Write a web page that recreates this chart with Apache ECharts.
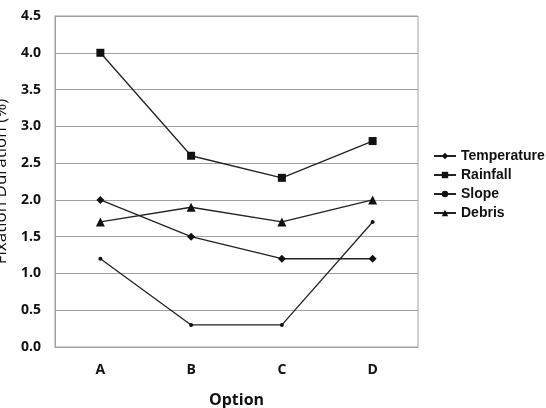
<!DOCTYPE html>
<html>
<head>
<meta charset="utf-8">
<script src="https://cdn.jsdelivr.net/npm/echarts@6/dist/echarts.min.js"></script>
<style>
  html, body { margin: 0; padding: 0; background: #fff; }
  #chart { width: 546px; height: 408px; }
</style>
</head>
<body>
<div id="chart"></div>
<script>
var categories = ['A', 'B', 'C', 'D']
var temperature = [2.0, 1.5, 1.2, 1.2]
var rainfall = [4.0, 2.6, 2.3, 2.8]
var slope = [1.2, 0.3, 0.3, 1.7]
var debris = [1.7, 1.9, 1.7, 2.0]

var font = '"Open Sans", "DejaVu Sans", sans-serif'

function line (name, data, symbol, size) {
  return {
    name: name,
    type: 'line',
    data: data,
    symbol: symbol,
    symbolSize: size,
    itemStyle: { color: '#111' },
    lineStyle: { color: '#222', width: 1.3 }
  }
}

var chart = echarts.init(document.getElementById('chart'))
chart.setOption({
  animation: false,
  textStyle: { fontFamily: font },
  grid: {
    left: 55, top: 16, width: 363, height: 331,
    outerBoundsMode: 'none',
    containLabel: false,
    show: true, borderColor: '#a0a0a0', borderWidth: 1
  },
  legend: {
    orient: 'vertical',
    left: 428,
    top: 144,
    itemWidth: 22,
    itemHeight: 8,
    itemGap: 5,
    textStyle: { color: '#111', fontSize: 14, fontWeight: 'bold', fontFamily: '"Liberation Sans", Arial, sans-serif' },
    data: ['Temperature', 'Rainfall', 'Slope', 'Debris']
  },
  xAxis: {
    type: 'category',
    data: categories,
    boundaryGap: true,
    name: 'Option',
    nameLocation: 'middle',
    nameGap: 45,
    nameTextStyle: { color: '#111', fontSize: 16, fontWeight: 'bold' },
    axisLine: { lineStyle: { color: '#a0a0a0' } },
    axisTick: { inside: true, length: 4, lineStyle: { color: '#777' } },
    axisLabel: { color: '#111', fontSize: 14, fontWeight: 'bold', margin: 16 }
  },
  yAxis: {
    type: 'value',
    min: 0,
    max: 4.5,
    interval: 0.5,
    name: 'Fixation Duration (%)',
    nameLocation: 'middle',
    nameGap: 42,
    nameTextStyle: { color: '#111', fontSize: 17 },
    axisLine: { show: true, lineStyle: { color: '#a0a0a0' } },
    axisTick: { show: false },
    splitLine: { lineStyle: { color: '#a0a0a0', width: 1 } },
    axisLabel: {
      color: '#111', fontSize: 14, fontWeight: 'bold', margin: 14,
      formatter: function (v) { return v.toFixed(1) }
    }
  },
  series: [
    line('Temperature', temperature, 'diamond', 8),
    line('Rainfall', rainfall, 'rect', 8),
    line('Slope', slope, 'circle', 4),
    line('Debris', debris, 'triangle', 9)
  ]
})
</script>
</body>
</html>
